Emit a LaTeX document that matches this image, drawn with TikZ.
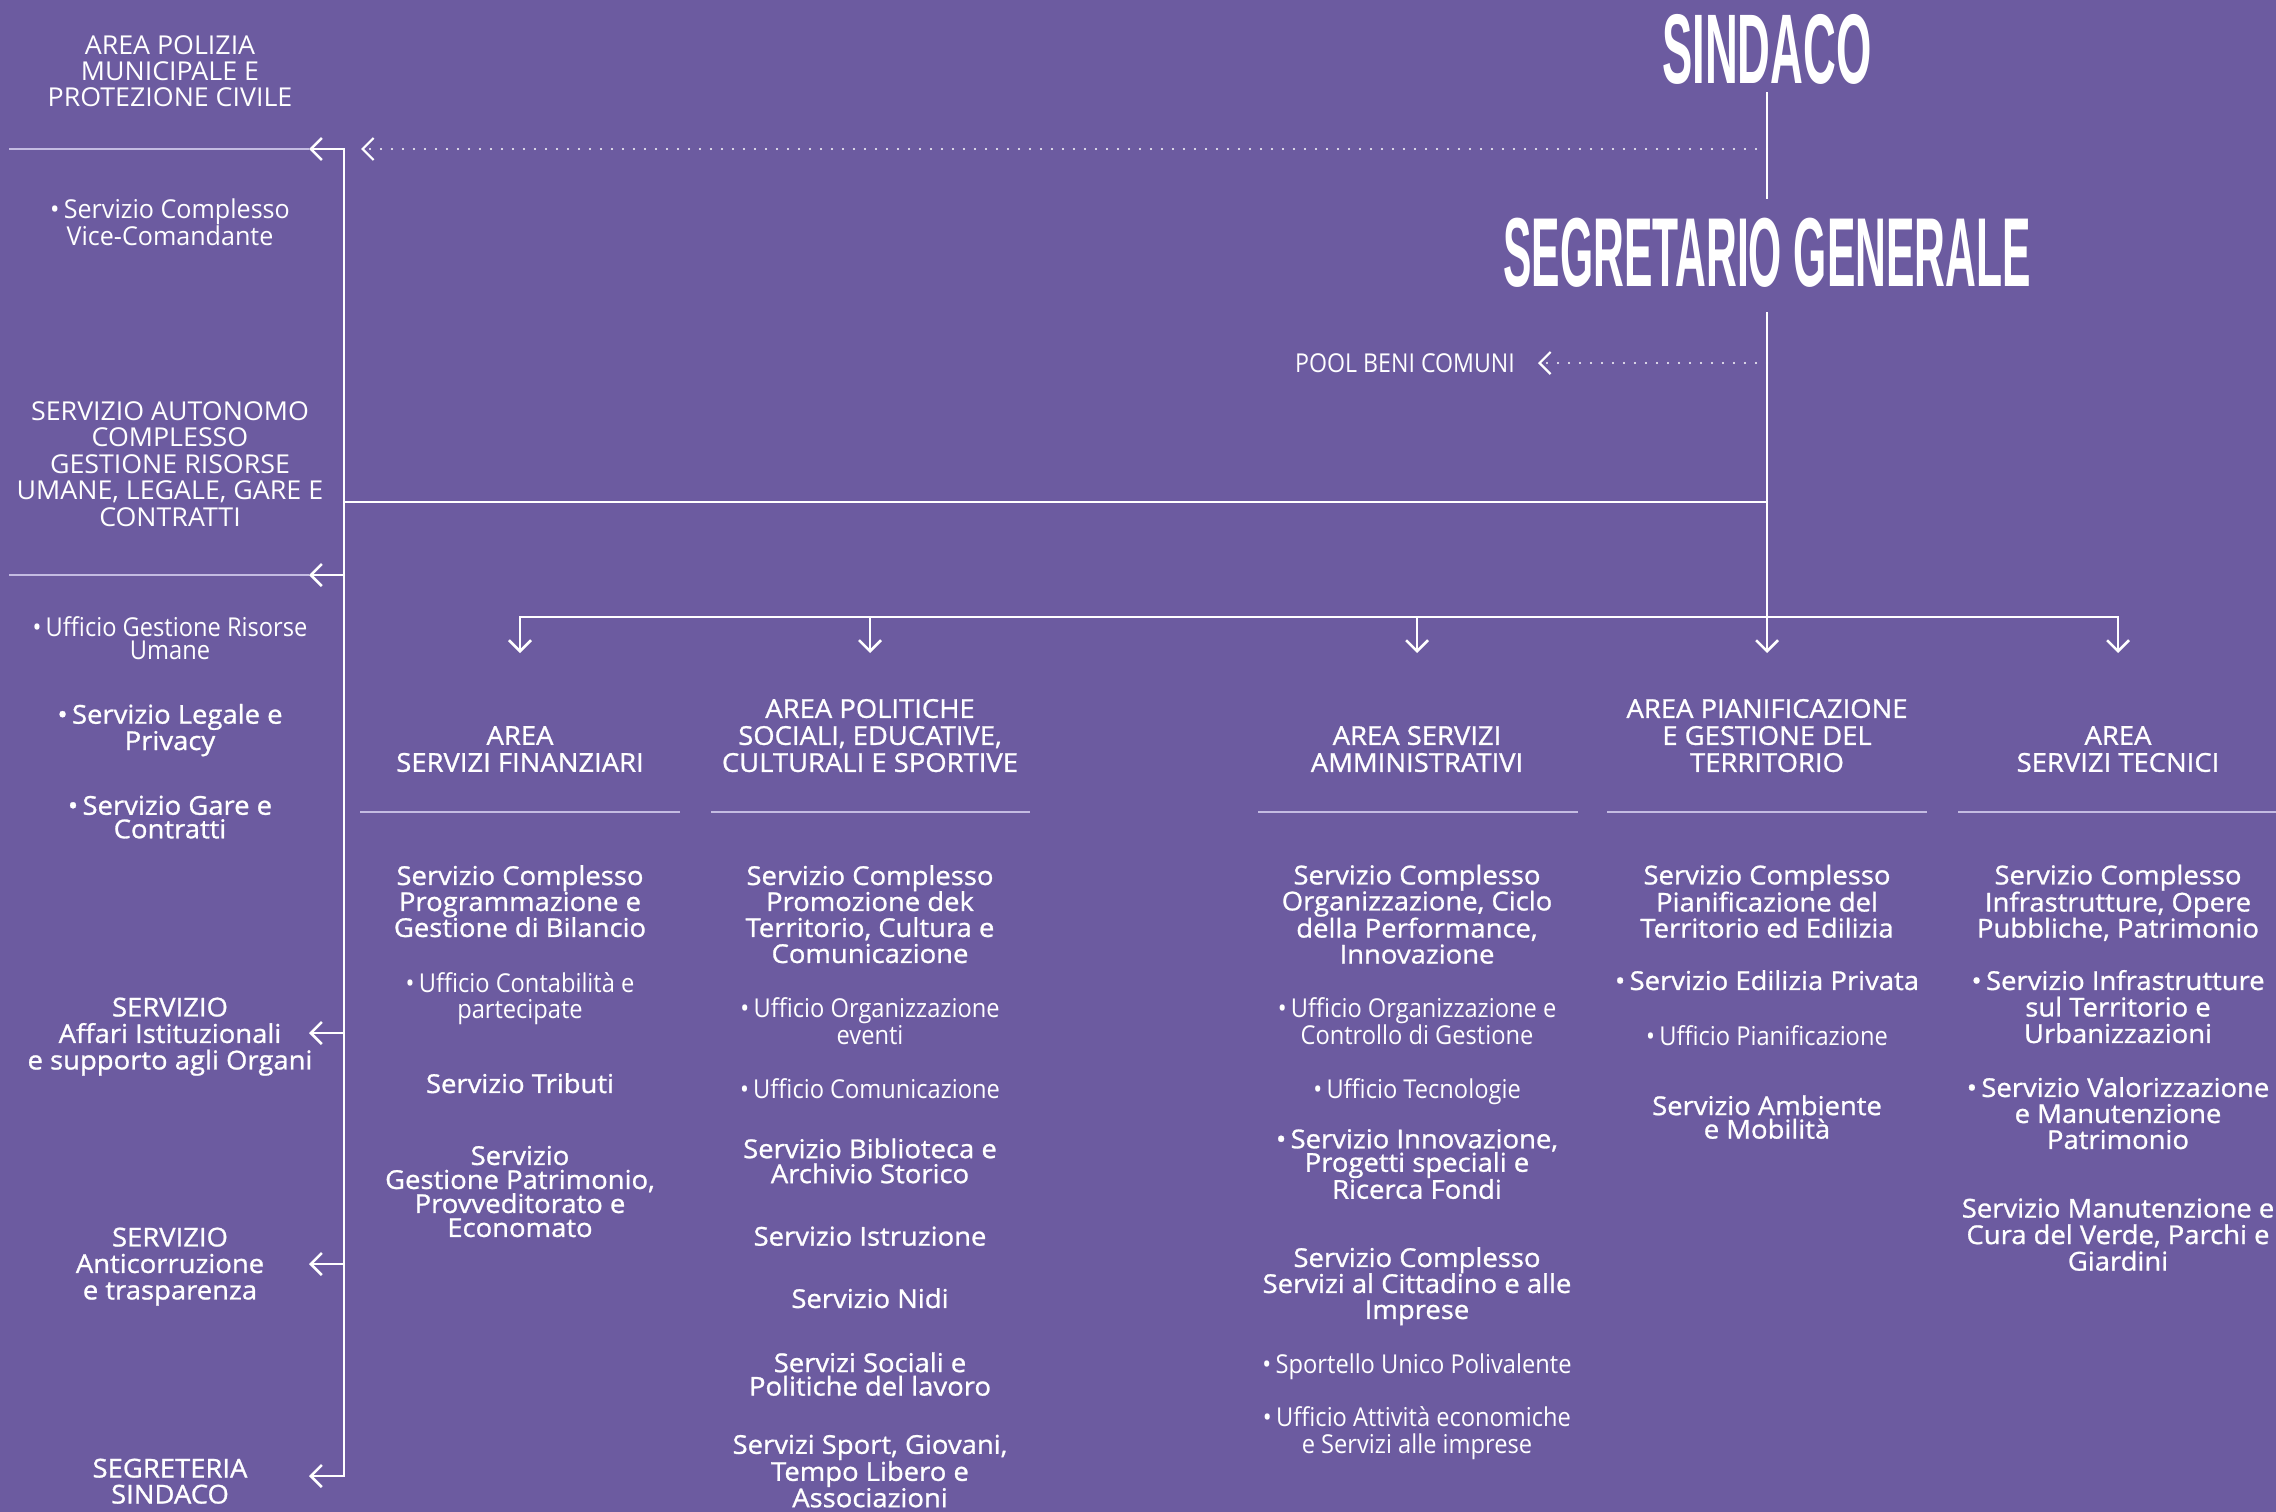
\documentclass[tikz,border=0pt]{standalone}
\usepackage{fontspec}
\setmainfont{Open Sans}
\newfontfamily\regf{Open Sans}[FakeStretch=1.03]
\newfontfamily\lightf{Open Sans}[FakeStretch=0.91]
\newfontfamily\medf{Open Sans}[FakeBold=1, FakeStretch=1.055]
\newfontfamily\vicef{Open Sans}[FakeStretch=0.965]
\newfontfamily\condf{Open Sans}[FakeStretch=0.89]
\newfontfamily\titleAf{Liberation Sans}[FakeStretch=0.459]
\newfontfamily\titleBf{Liberation Sans}[FakeStretch=0.435]
\usetikzlibrary{arrows.meta}
\definecolor{bg}{RGB}{108,91,160}
\definecolor{sepc}{RGB}{196,188,226}
\newcommand\fs[1]{\fontsize{26}{#1}\selectfont}
\tikzset{
  txt/.style={inner sep=0pt, align=center, text=white,
    execute at begin node=\strut, execute at end node=\strut},
  up/.style={txt, font=\regf\fs{#1}}, up/.default=26,
  lt/.style={txt, font=\lightf\fs{#1}}, lt/.default=26,
  vc/.style={txt, font=\vicef\fs{#1}}, vc/.default=26,
  md/.style={txt, font=\medf\fs{#1}}, md/.default=26,
  hd/.style={txt, font=\medf\fs{#1}}, hd/.default=27,
  pl/.style={txt, font=\condf\fs{26}},
  titlenode/.style={inner sep=0pt, text=white},
  conn/.style={draw=white, line width=2.5pt},
  sepline/.style={draw=sepc, line width=1.8pt},
  dotline/.style={draw=white, line width=2.2pt, line cap=round, dash pattern=on 0pt off 11pt},
  barb/.tip={Straight Barb[length=11pt,width=22pt]},
  arr/.style={-{barb}},
  arrboth/.style={{barb}-{barb}}
}
\begin{document}
\begin{tikzpicture}[x=1pt,y=-1pt]
\fill[bg] (0,0) rectangle (2276,1512);
\useasboundingbox (0,0) rectangle (2276,1512);

% titles
\node[titlenode, font=\titleAf\bfseries\fontsize{99}{99}\selectfont] (sind) at (1767,49) {SINDACO};
\node[titlenode, font=\titleBf\bfseries\fontsize{98}{98}\selectfont] (segr) at (1767,253) {SEGRETARIO GENERALE};
\node[pl] (pool) at (1405,367) {POOL BENI COMUNI};

% left column
\node[up] (polizia) at (170,75) {AREA POLIZIA\\MUNICIPALE E\\PROTEZIONE CIVILE};
\node[vc=23.5] (vice) at (170,225.5) {•\,Servizio Complesso\\Vice-Comandante};
\node[up=26.5] (autonomo) at (170,468) {SERVIZIO AUTONOMO\\COMPLESSO\\GESTIONE RISORSE\\UMANE, LEGALE, GARE E\\CONTRATTI};
\node[lt=23.5] (risorse) at (170,641.5) {•\,Ufficio Gestione Risorse\\Umane};
\node[md=23.5] (legale) at (170,730.5) {•\,Servizio Legale e\\Privacy};
\node[md=23.5] (gare) at (170,820.5) {•\,Servizio Gare e\\Contratti};
\node[md=26.5] (affari) at (170,1037.5) {SERVIZIO\\Affari Istituzionali\\e supporto agli Organi};
\node[md=26.5] (anticorr) at (170,1267.5) {SERVIZIO\\Anticorruzione\\e trasparenza};
\node[md] (segreteria) at (170,1485) {SEGRETERIA\\SINDACO};

% area headers
\node[hd] (h1) at (520,753) {AREA\\SERVIZI FINANZIARI};
\node[hd] (h2) at (870,739.5) {AREA POLITICHE\\SOCIALI, EDUCATIVE,\\CULTURALI E SPORTIVE};
\node[hd] (h3) at (1417,753) {AREA SERVIZI\\AMMINISTRATIVI};
\node[hd] (h4) at (1767,739.5) {AREA PIANIFICAZIONE\\E GESTIONE DEL\\TERRITORIO};
\node[hd] (h5) at (2118,753) {AREA\\SERVIZI TECNICI};

% column 1
\node[md] (c1a) at (520,905) {Servizio Complesso\\Programmazione e\\Gestione di Bilancio};
\node[lt] (c1b) at (520,999) {•\,Ufficio Contabilità e\\partecipate};
\node[md] (c1c) at (520,1087) {Servizio Tributi};
\node[md=24] (c1d) at (520,1195) {Servizio\\Gestione Patrimonio,\\Provveditorato e\\Economato};

% column 2
\node[md] (c2a) at (870,918) {Servizio Complesso\\Promozione dek\\Territorio, Cultura e\\Comunicazione};
\node[lt=27] (c2b) at (870,1025.5) {•\,Ufficio Organizzazione\\eventi};
\node[lt] (c2c) at (870,1092) {•\,Ufficio Comunicazione};
\node[md=25] (c2d) at (870,1164.5) {Servizio Biblioteca e\\Archivio Storico};
\node[md] (c2e) at (870,1240) {Servizio Istruzione};
\node[md] (c2f) at (870,1302) {Servizio Nidi};
\node[md=23.5] (c2g) at (870,1377.5) {Servizi Sociali e\\Politiche del lavoro};
\node[md=23.5] (c2h) at (870,1474.5) {Servizi Sport, Giovani,\\Tempo Libero e\\Associazioni};

% column 3
\node[md] (c3a) at (1417,918) {Servizio Complesso\\Organizzazione, Ciclo\\della Performance,\\Innovazione};
\node[lt=27] (c3b) at (1417,1025.5) {•\,Ufficio Organizzazione e\\Controllo di Gestione};
\node[lt] (c3c) at (1417,1092) {•\,Ufficio Tecnologie};
\node[md=23.5] (c3d) at (1417,1167.5) {•\,Servizio Innovazione,\\Progetti speciali e\\Ricerca Fondi};
\node[md] (c3e) at (1417,1287) {Servizio Complesso\\Servizi al Cittadino e alle\\Imprese};
\node[lt] (c3f) at (1417,1368) {•\,Sportello Unico Polivalente};
\node[lt=27] (c3g) at (1417,1434.5) {•\,Ufficio Attività economiche\\e Servizi alle imprese};

% column 4
\node[md] (c4a) at (1767,905) {Servizio Complesso\\Pianificazione del\\Territorio ed Edilizia};
\node[md] (c4b) at (1767,984) {•\,Servizio Edilizia Privata};
\node[lt] (c4c) at (1767,1039) {•\,Ufficio Pianificazione};
\node[md=23.5] (c4d) at (1767,1120.5) {Servizio Ambiente\\e Mobilità};

% column 5
\node[md] (c5a) at (2118,905) {Servizio Complesso\\Infrastrutture, Opere\\Pubbliche, Patrimonio};
\node[md=26.5] (c5b) at (2118,1010.5) {•\,Servizio Infrastrutture\\sul Territorio e\\Urbanizzazioni};
\node[md] (c5c) at (2118,1117) {•\,Servizio Valorizzazione\\e Manutenzione\\Patrimonio};
\node[md=26.5] (c5d) at (2118,1238.5) {Servizio Manutenzione e\\Cura del Verde, Parchi e\\Giardini};

% coordinates
\coordinate (d1) at (1767,149);
\coordinate (dt1) at (361,149);
\coordinate (d2) at (1767,363);
\coordinate (J) at (1767,502);
\coordinate (Lj) at (344,502);
\coordinate (Ltop) at (344,149);
\coordinate (Lbot) at (344,1476);
\coordinate (la1) at (309,149);
\coordinate (la2) at (309,575);
\coordinate (la3) at (309,1033);
\coordinate (la4) at (309,1264);
\coordinate (la5) at (309,1476);
\coordinate (s2) at (344,575);
\coordinate (s3) at (344,1033);
\coordinate (s4) at (344,1264);
\coordinate (sl1) at (9,149);
\coordinate (sl2) at (9,575);
\coordinate (b1) at (520,617);
\coordinate (b2) at (870,617);
\coordinate (b3) at (1417,617);
\coordinate (b5) at (2118,617);
\coordinate (t1) at (520,653);
\coordinate (t2) at (870,653);
\coordinate (t3) at (1417,653);
\coordinate (t4) at (1767,653);
\coordinate (t5) at (2118,653);

% separators
\draw[sepline] (sl1) -- (la1);
\draw[sepline] (sl2) -- (la2);
\draw[sepline] (360,812) -- (680,812);
\draw[sepline] (711,812) -- (1030,812);
\draw[sepline] (1258,812) -- (1578,812);
\draw[sepline] (1607,812) -- (1927,812);
\draw[sepline] (1958,812) -- (2276,812);

% connectors
\draw[conn, shorten <=8pt, shorten >=19pt] (sind.south) -- (segr.north);
\draw[conn, shorten <=24pt, arr] (segr.south) -- (t4);
\draw[dotline, arr] (d1) -- (dt1);
\draw[dotline, arr, shorten >=23pt] (d2) -- (d2 -| pool.east);
\draw[conn] (J) -- (Lj);
\draw[conn, arrboth] (la1) -- (Ltop) -- (Lbot) -- (la5);
\draw[conn, arr] (s2) -- (la2);
\draw[conn, arr] (s3) -- (la3);
\draw[conn, arr] (s4) -- (la4);
\draw[conn, arrboth] (t1) -- (b1) -- (b5) -- (t5);
\draw[conn, arr] (b2) -- (t2);
\draw[conn, arr] (b3) -- (t3);
\end{tikzpicture}
\end{document}
